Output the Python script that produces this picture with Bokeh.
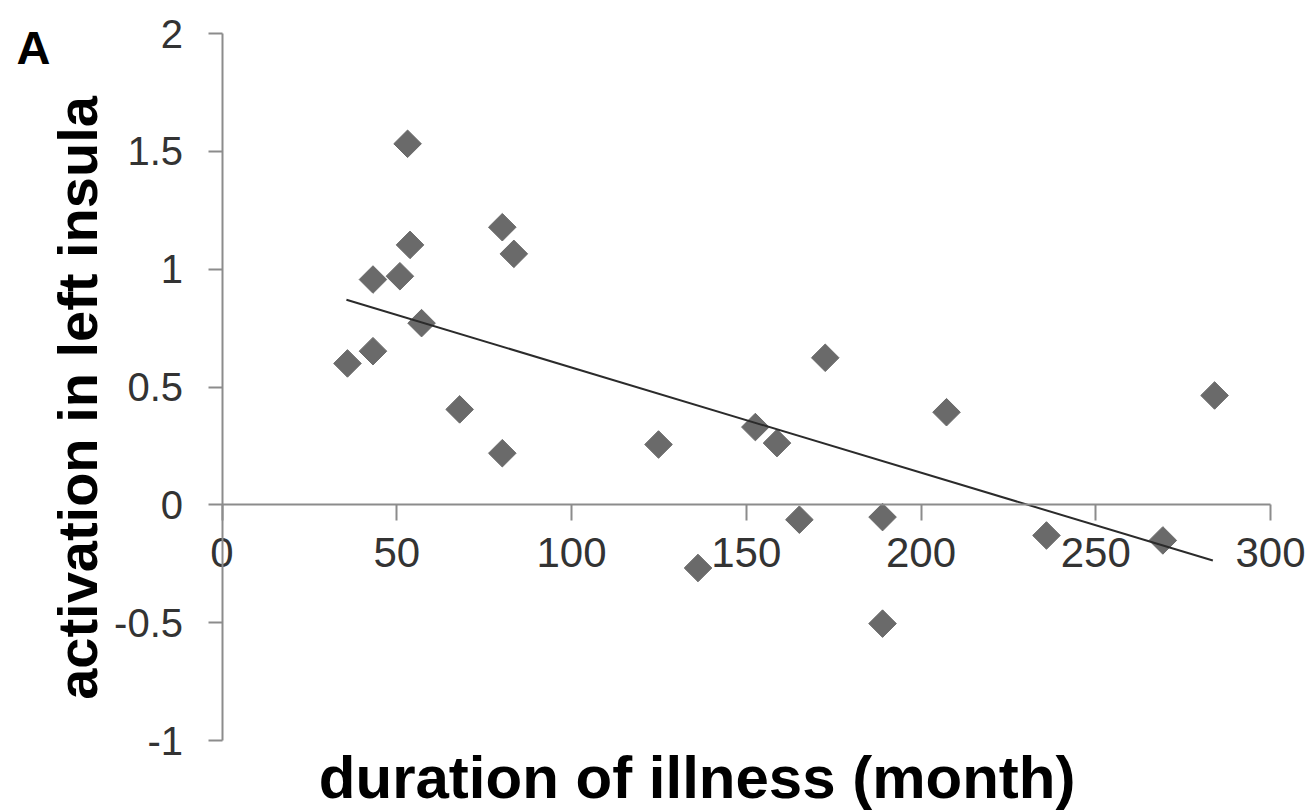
import math
from bokeh.plotting import figure
from bokeh.models import Range1d, FixedTicker, Label
from bokeh.embed import file_html
from bokeh.resources import INLINE

# data
duration = [35.9, 43.2, 43.2, 50.9, 53.1, 53.8, 57.1, 68.0, 80.2, 80.2, 83.5,
            124.9, 136.2, 152.6, 158.8, 165.2, 172.6, 189.0, 189.0, 207.3,
            235.9, 269.2, 284.0]
activation = [0.60, 0.652, 0.956, 0.970, 1.532, 1.103, 0.771, 0.405, 1.178,
              0.219, 1.065, 0.256, -0.268, 0.33, 0.262, -0.063, 0.624, -0.052,
              -0.504, 0.393, -0.130, -0.151, 0.464]
trend_x = [35.6, 283.5]
trend_y = [0.870, -0.236]
x_ticks = [0, 50, 100, 150, 200, 250, 300]
y_ticks = [-1, -0.5, 0, 0.5, 1, 1.5, 2]
x_label = "duration of illness  (month)"
y_label = "activation in left insula"
panel_tag = "A"

W, H = 1313, 812
# pixel placement of the plotted area within the page
X0_PX, X300_PX = 221.5, 1270.0
Y2_PX, YM1_PX = 33.0, 740.0
sx = (X300_PX - X0_PX) / 300.0
sy = (YM1_PX - Y2_PX) / 3.0
x_start = -X0_PX / sx
x_end = x_start + W / sx
y_end = 2 + Y2_PX / sy
y_start = y_end - H / sy

p = figure(width=W, height=H, output_backend="svg", toolbar_location=None,
           x_range=Range1d(x_start, x_end), y_range=Range1d(y_start, y_end),
           min_border=0)
p.outline_line_color = None
p.xgrid.visible = False
p.ygrid.visible = False
p.background_fill_color = "white"
p.border_fill_color = "white"

FONT = "Liberation Sans"
TICK_C = "#333333"
AXIS_C = "#8c8c8c"

xa = p.xaxis[0]
xa.fixed_location = 0
xa.bounds = (0, 300)
xa.ticker = FixedTicker(ticks=x_ticks)
xa.minor_tick_line_color = None
xa.major_tick_in = 0
xa.major_tick_out = 16
xa.axis_line_color = AXIS_C
xa.axis_line_width = 2
xa.major_tick_line_color = AXIS_C
xa.major_tick_line_width = 2
xa.major_label_text_font = FONT
xa.major_label_text_font_size = "42px"
xa.major_label_text_color = TICK_C
xa.major_label_standoff = 17
xa.major_label_overrides = {t: str(t) for t in x_ticks}

ya = p.yaxis[0]
ya.fixed_location = 0
ya.bounds = (-1, 2)
ya.ticker = FixedTicker(ticks=y_ticks)
ya.minor_tick_line_color = None
ya.major_tick_in = 0
ya.major_tick_out = 14
ya.axis_line_color = AXIS_C
ya.axis_line_width = 2
ya.major_tick_line_color = AXIS_C
ya.major_tick_line_width = 2
ya.major_label_text_font = FONT
ya.major_label_text_font_size = "40px"
ya.major_label_text_color = TICK_C
ya.major_label_standoff = 25
ya.major_label_overrides = {-1: "-1", -0.5: "-0.5", 0: "0", 0.5: "0.5",
                            1: "1", 1.5: "1.5", 2: "2"}

p.scatter(duration, activation, marker="square", size=19.5, angle=math.pi / 4,
          fill_color="#6a6a6a", line_color="#6a6a6a", line_width=1)
p.line(trend_x, trend_y, line_color="#2b2b2b", line_width=2)

SHIFT = 20  # renderer places alphabetic baseline ~20px lower than requested
p.add_layout(Label(x=705, y=H - 797 + SHIFT, x_units="screen", y_units="screen",
                   text=x_label, text_align="center",
                   text_baseline="alphabetic", text_font=FONT,
                   text_font_style="bold", text_font_size="60px",
                   text_color="black"))
p.add_layout(Label(x=97 - SHIFT, y=H - 397.5, x_units="screen", y_units="screen",
                   text=y_label, text_align="center",
                   text_baseline="alphabetic", angle=math.pi / 2,
                   text_font=FONT, text_font_style="bold",
                   text_font_size="56px", text_color="black"))
p.add_layout(Label(x=16, y=H - 67 + SHIFT, x_units="screen", y_units="screen",
                   text=panel_tag, text_align="left", text_baseline="alphabetic",
                   text_font=FONT, text_font_style="bold",
                   text_font_size="47px", text_color="black"))

open("out.html", "w").write(file_html(p, INLINE))
